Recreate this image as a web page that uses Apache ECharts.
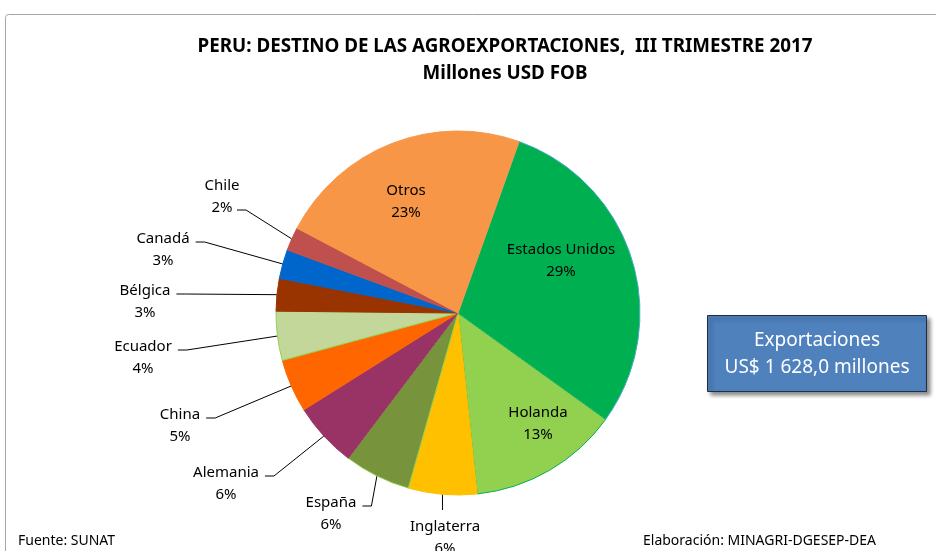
<!DOCTYPE html>
<html>
<head>
<meta charset="utf-8">
<script src="https://cdn.jsdelivr.net/npm/echarts@6/dist/echarts.min.js"></script>
<style>
  html, body { margin: 0; padding: 0; background: #fff; }
  #chart { width: 936px; height: 551px; }
</style>
</head>
<body>
<div id="chart"></div>
<script>
  // destinos en sentido horario, empezando por Estados Unidos
  const destinos = ['Estados Unidos', 'Holanda', 'Inglaterra', 'España', 'Alemania', 'China',
    'Ecuador', 'Bélgica', 'Canadá', 'Chile', 'Otros'];
  // millones USD FOB (total 1 628,0)
  const valores = [480, 218, 99, 96, 94, 77, 71, 47, 42, 34, 370];
  const colores = ['#00B050', '#92D050', '#FFC000', '#77933C', '#993366', '#FF6600',
    '#C4D79B', '#993300', '#0066CC', '#C0504D', '#F79646'];
  const bordes = ['#4BACC6', '#00B050', '#FFC000', '#92D050', '#993366', '#FF6600',
    '#92D050', '#993300', '#0066CC', '#C0504D', '#F79646'];
  const total = valores.reduce((a, b) => a + b, 0);

  // donde va cada etiqueta (centro del bloque) y a que linea se une la guia
  const etiquetas = {
    'Estados Unidos': { x: 561, y: 261 },
    'Holanda': { x: 538, y: 424 },
    'Otros': { x: 406, y: 202 },
    'Chile': { x: 222, y: 197, guia: 'pct' },
    'Canadá': { x: 163, y: 250, guia: 'nombre' },
    'Bélgica': { x: 145, y: 302, guia: 'nombre' },
    'Ecuador': { x: 143, y: 358, guia: 'nombre' },
    'China': { x: 180, y: 426, guia: 'nombre' },
    'Alemania': { x: 226, y: 484, guia: 'nombre' },
    'España': { x: 331, y: 514, guia: 'nombre' },
    'Inglaterra': { x: 445, y: 538, guia: 'arriba' }
  };

  let chart = echarts.init(document.getElementById('chart'));

  chart.setOption({
    animation: false,
    graphic: [
      // marco
      {
        type: 'rect', shape: { x: 5.5, y: 14.5, width: 1000, height: 600, r: 3 },
        style: { fill: 'none', stroke: '#A6A6A6', lineWidth: 1 }, z: -1
      },
      {
        type: 'text', x: 505, y: 47,
        style: {
          text: 'PERU: DESTINO DE LAS AGROEXPORTACIONES,  III TRIMESTRE 2017',
          font: 'bold 18.8px "Noto Sans"', fill: '#000', align: 'center', verticalAlign: 'middle'
        }
      },
      {
        type: 'text', x: 505, y: 74,
        style: {
          text: 'Millones USD FOB',
          font: 'bold 18.8px "Noto Sans"', fill: '#000', align: 'center', verticalAlign: 'middle'
        }
      },
      // recuadro del total
      {
        type: 'rect', shape: { x: 707.5, y: 315.5, width: 219, height: 76 },
        style: {
          fill: '#4F81BD', stroke: '#1F2F44', lineWidth: 1,
          shadowBlur: 4, shadowOffsetX: 3, shadowOffsetY: 3, shadowColor: 'rgba(0,0,0,0.45)'
        }
      },
      {
        type: 'text', x: 817, y: 341,
        style: {
          text: 'Exportaciones', font: '19px "Noto Sans"', fill: '#fff',
          align: 'center', verticalAlign: 'middle'
        }
      },
      {
        type: 'text', x: 817, y: 368,
        style: {
          text: 'US$ 1 628,0 millones', font: '19px "Noto Sans"', fill: '#fff',
          align: 'center', verticalAlign: 'middle'
        }
      },
      {
        type: 'text', x: 18, y: 541,
        style: { text: 'Fuente: SUNAT', font: '14px "Noto Sans"', fill: '#000', verticalAlign: 'middle' }
      },
      {
        type: 'text', x: 643, y: 541,
        style: {
          text: 'Elaboración: MINAGRI-DGESEP-DEA', font: '14px "Noto Sans"', fill: '#000',
          verticalAlign: 'middle'
        }
      }
    ],
    series: [{
      type: 'pie',
      center: [458, 313],
      radius: 182,
      startAngle: 70.4,
      clockwise: true,
      avoidLabelOverlap: false,
      minShowLabelAngle: 0,
      data: destinos.map((d, i) => ({
        name: d,
        value: valores[i],
        itemStyle: { color: colores[i], borderColor: bordes[i], borderWidth: 1 },
        labelLine: { show: !!etiquetas[d].guia }
      })),
      label: {
        show: true,
        position: 'outside',
        formatter: p => p.name + '\n' + Math.round(p.value / total * 100) + '%',
        fontFamily: 'Noto Sans',
        fontSize: 15,
        lineHeight: 22,
        color: '#000',
        align: 'center'
      },
      labelLine: { lineStyle: { color: '#000', width: 1 } },
      emphasis: { disabled: true },
      labelLayout: function (p) {
        const e = etiquetas[destinos[p.dataIndex]];
        const res = { x: e.x, y: e.y, align: 'center', verticalAlign: 'middle' };
        if (e.guia && p.labelLinePoints) {
          const ancla = p.labelLinePoints[0];
          const w = p.labelRect.width;
          if (e.guia === 'arriba') {
            res.labelLinePoints = [ancla, [ancla[0], e.y - 28]];
          } else if (e.guia === 'pct') {
            const yl = e.y + 13, xf = e.x + 15;
            res.labelLinePoints = [ancla, [xf + 9, yl], [xf, yl]];
          } else {
            const yl = e.y - 8, xf = e.x + w / 2 + 6;
            res.labelLinePoints = [ancla, [xf + 9, yl], [xf, yl]];
          }
        }
        return res;
      }
    }]
  });
</script>
</body>
</html>
